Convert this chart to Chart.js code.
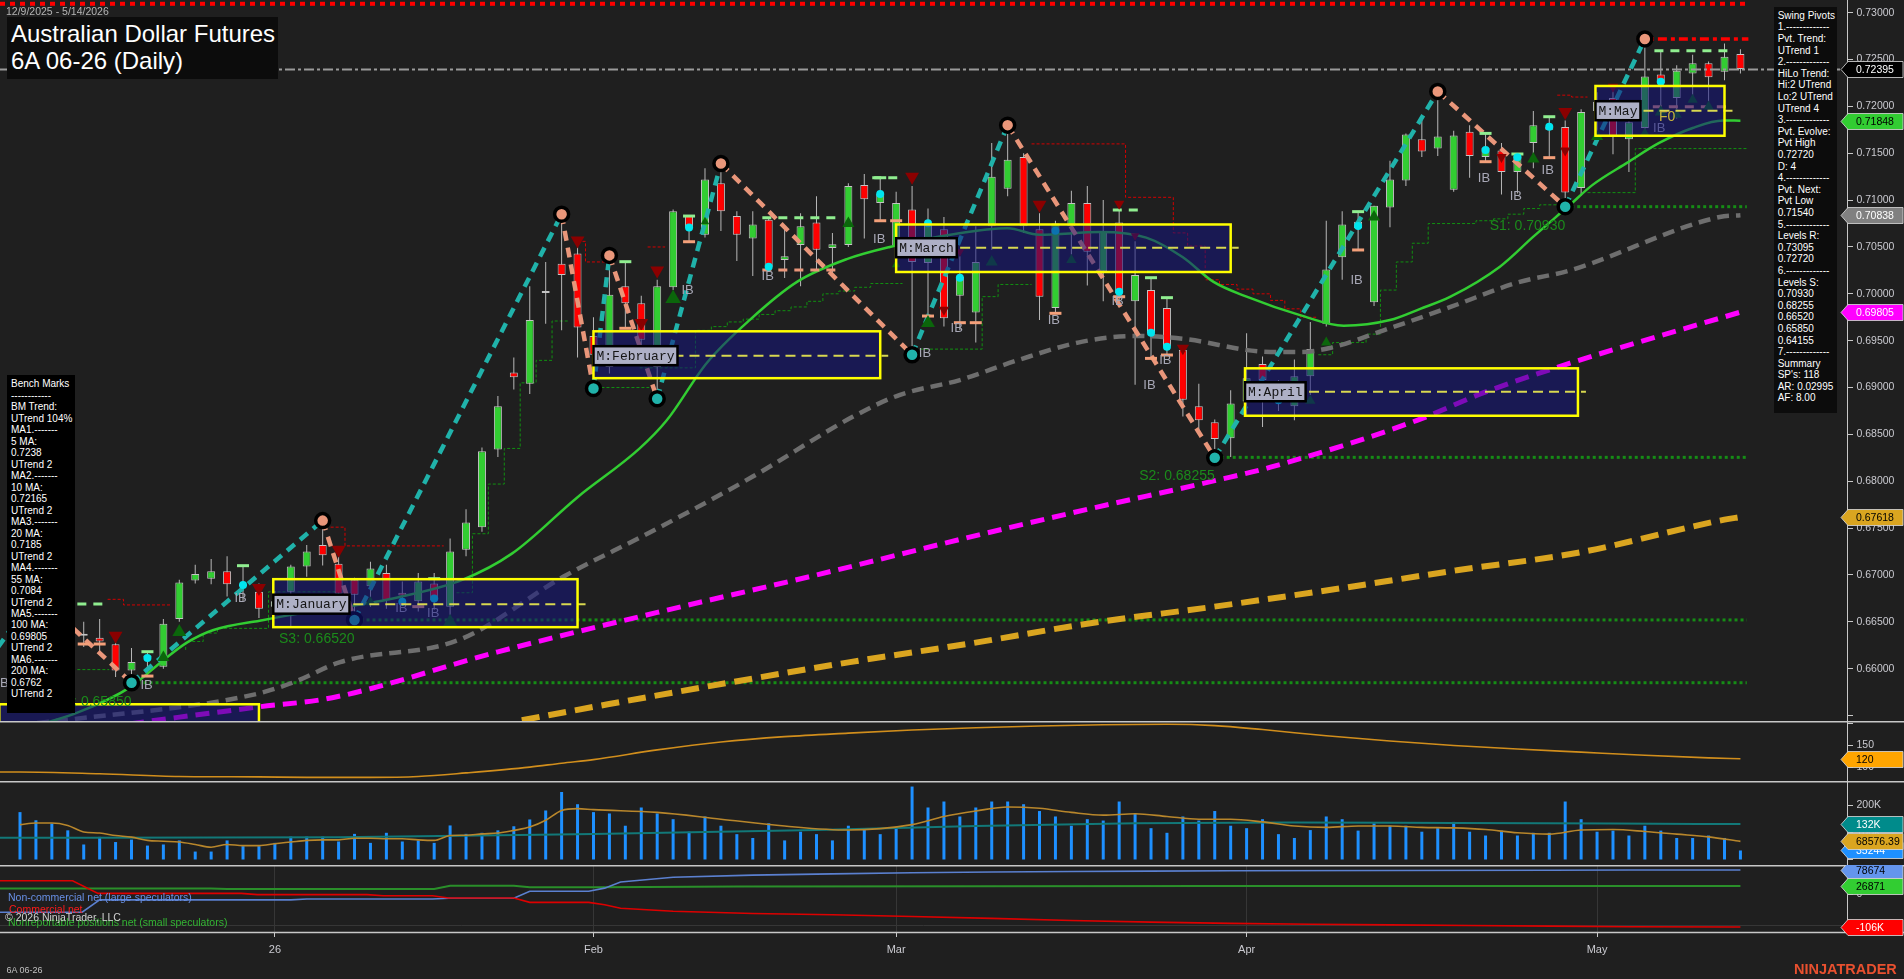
<!DOCTYPE html>
<html>
<head>
<meta charset="utf-8">
<title>Australian Dollar Futures 6A 06-26 (Daily)</title>
<script src="https://cdn.jsdelivr.net/npm/chart.js@4/dist/chart.umd.min.js"></script>
<style>
html,body{margin:0;padding:0;width:1904px;height:979px;background:#1f1f1f;overflow:hidden;font-family:"Liberation Sans",Arial,sans-serif;}
canvas{position:absolute;left:0;display:block;}
.t{position:absolute;white-space:pre;}
</style>
</head>
<body>
<canvas id="cMain" width="1904" height="721" style="top:0;width:1904px;height:721px"></canvas>
<canvas id="cOsc" width="1904" height="60" style="top:721px;width:1904px;height:60px"></canvas>
<canvas id="cVol" width="1904" height="84" style="top:781px;width:1904px;height:84px"></canvas>
<canvas id="cCot" width="1904" height="114" style="top:865px;width:1904px;height:114px"></canvas>

<div class="t" style="left:6px;top:5px;font-size:10.5px;line-height:13px;color:#b4b4b4">12/9/2025 - 5/14/2026</div>
<div class="t" style="left:7px;top:17px;width:271px;height:62px;box-sizing:border-box;padding:4.3px 0 0 4px;background:#0c0c0c;color:#ffffff;font-size:24px;line-height:26.7px">Australian Dollar Futures
6A 06-26 (Daily)</div>
<div class="t" style="left:7px;top:375px;width:68px;height:338px;box-sizing:border-box;padding:3.3px 0 0 4px;background:#000;color:#fff;font-size:10px;line-height:11.49px">Bench Marks
------------
BM Trend:
UTrend 104%
MA1.-------
5 MA:
0.7238
UTrend 2
MA2.-------
10 MA:
0.72165
UTrend 2
MA3.-------
20 MA:
0.7185
UTrend 2
MA4.-------
55 MA:
0.7084
UTrend 2
MA5.-------
100 MA:
0.69805
UTrend 2
MA6.-------
200 MA:
0.6762
UTrend 2</div>
<div class="t" style="left:1774px;top:7px;width:63px;height:406px;box-sizing:border-box;padding:2.9px 0 0 3.7px;background:#0c0c0c;color:#fff;font-size:10px;line-height:11.6px">Swing Pivots
1.-------------
Pvt. Trend:
UTrend 1
2.-------------
HiLo Trend:
Hi:2 UTrend
Lo:2 UTrend
UTrend 4
3.-------------
Pvt. Evolve:
Pvt High
0.72720
D: 4
4.-------------
Pvt. Next:
Pvt Low
0.71540
5.-------------
Levels R:
0.73095
0.72720
6.-------------
Levels S:
0.70930
0.68255
0.66520
0.65850
0.64155
7.-------------
Summary
SP's: 118
AR: 0.02995
AF: 8.00</div>
<div class="t" style="left:8px;top:890.7px;font-size:10.5px;line-height:12px;color:#6890e6">Non-commercial net (large speculators)</div>
<div class="t" style="left:9px;top:903.3px;font-size:10.5px;line-height:12px;color:#ff1a1a">Commercial net</div>
<div class="t" style="left:8px;top:916.3px;font-size:10.5px;line-height:12px;color:#33b533">Nonreportable positions net (small speculators)</div>
<div class="t" style="left:5px;top:911.3px;font-size:10.5px;line-height:12px;color:#d0d0d0">© 2026 NinjaTrader, LLC</div>
<div class="t" style="left:6.5px;top:964.5px;font-size:9px;line-height:11px;color:#c0c0c0">6A 06-26</div>
<div class="t" style="left:1794px;top:961px;font-size:14.5px;line-height:16px;font-weight:bold;color:#e8502f">NINJATRADER</div>

<script>
// ---------------- DATA ----------------
const X_MIN = -1.2555, X_MAX = 114.69;
const opens  = [.6635,.6655,.6660,.6638,.6637,.6633,.6626,.6598,.6612,.6602,.6653,.6694,.6696,.6704,.6688,.6682,.6666,.6682,.6709,.6732,.6712,.6695,.6688,.6702,.6681,.6672,.6691,.6666,.6727,.6751,.6834,.6916,.6904,.7001,.7032,.7043,.6955,.6922,.7008,.6990,.6922,.7007,.7083,.7063,.7118,.7083,.7059,.7079,.7036,.7052,.7076,.7049,.7052,.7116,.7097,.7050,.7090,.7033,.7069,.6998,.6980,.7072,.7112,.7146,.7069,.6985,.7072,.7097,.7024,.7076,.6992,.7004,.6985,.6940,.6880,.6863,.6846,.6885,.6925,.6896,.6880,.6912,.6968,.7039,.7077,.6991,.7092,.7121,.7165,.7155,.7111,.7173,.7146,.7153,.7130,.7161,.7175,.7178,.7113,.7195,.7209,.7165,.7177,.7234,.7209,.7235,.7246,.7237,.7256];
const highs  = [.6662,.6680,.6668,.6650,.6650,.6653,.6628,.6622,.6618,.6653,.6695,.6711,.6717,.6720,.6710,.6691,.6683,.6711,.6732,.6758,.6722,.6697,.6714,.6711,.6693,.6702,.6702,.6739,.6770,.6836,.6891,.6932,.7008,.7034,.7085,.7050,.6975,.7041,.7034,.6998,.7015,.7090,.7083,.7134,.7139,.7088,.7088,.7081,.7072,.7086,.7104,.7065,.7118,.7128,.7124,.7109,.7115,.7091,.7082,.7040,.7072,.7161,.7180,.7150,.7086,.7078,.7110,.7115,.7100,.7089,.7056,.7017,.6996,.6944,.6904,.6866,.6897,.6958,.6933,.6908,.6930,.6970,.7078,.7088,.7088,.7094,.7142,.7171,.7186,.7216,.7174,.7180,.7171,.7161,.7149,.7195,.7189,.7185,.7197,.7215,.7216,.7191,.7272,.7258,.7244,.7255,.7248,.7267,.7261];
const lows   = [.6625,.6640,.6630,.6625,.6623,.6616,.6591,.6586,.6593,.6600,.6650,.6691,.6690,.6677,.6672,.6654,.6660,.6645,.6698,.6710,.6672,.6652,.6666,.6664,.6667,.6661,.6663,.6657,.6720,.6746,.6826,.6898,.6893,.6968,.6961,.6932,.6899,.6915,.6963,.6935,.6888,.7004,.7056,.7060,.7067,.7035,.7019,.7026,.7017,.7008,.7025,.7020,.7050,.7059,.7078,.7044,.6935,.6977,.6965,.6961,.6948,.7047,.7104,.7065,.6972,.6979,.7042,.7009,.6992,.6992,.6903,.6931,.6935,.6869,.6855,.6825,.6826,.6870,.6858,.6875,.6865,.6892,.6965,.7015,.7047,.6987,.7071,.7115,.7146,.7147,.7109,.7124,.7141,.7106,.7107,.7134,.7145,.7093,.7105,.7170,.7149,.7130,.7170,.7200,.7187,.7210,.7205,.7228,.7235];
const closes = [.6655,.6660,.6638,.6632,.6635,.6629,.6598,.6607,.6614,.6648,.6692,.6701,.6704,.6690,.6689,.6664,.6672,.6709,.6725,.6721,.6680,.6679,.6707,.6673,.6678,.6693,.6673,.6725,.6756,.6832,.6880,.6911,.6972,.7001,.7020,.6964,.6935,.6999,.6990,.6951,.7008,.7088,.7070,.7122,.7088,.7063,.7074,.7029,.7040,.7072,.7047,.7053,.7115,.7101,.7107,.7097,.7034,.7075,.6974,.7018,.7034,.7125,.7143,.7072,.6997,.7075,.7097,.7045,.7067,.7001,.7020,.6958,.6944,.6887,.6865,.6845,.6883,.6910,.6908,.6890,.6912,.6941,.7026,.7074,.7070,.7094,.7122,.7170,.7152,.7168,.7169,.7147,.7156,.7130,.7147,.7180,.7178,.7108,.7194,.7205,.7168,.7183,.7232,.7225,.7238,.7246,.7231,.7253,.7240];
const volumeK = [176,146,134,109,57,85,66,75,53,57,72,31,31,72,51,51,63,86,86,86,68,96,63,100,68,72,63,127,96,100,109,124,149,182,250,205,176,171,126,193,171,150,104,160,126,95,81,135,72,104,95,72,126,117,95,117,270,193,215,160,193,215,215,205,180,160,126,150,145,215,171,117,100,160,145,180,126,117,150,95,81,110,160,150,108,135,126,126,104,117,140,104,90,108,90,100,100,215,150,104,108,90,126,108,81,81,90,81,35];

const monthTickIdx = [16,36,55,77,99];
const monthTickLabel = ['26','Feb','Mar','Apr','May'];
const mainTicks = [0.655,0.66,0.665,0.67,0.675,0.68,0.685,0.69,0.695,0.70,0.705,0.71,0.715,0.72,0.725,0.73];
const oscTicks = [100,150,200];
const volTicks = [0,100,200];
const cotTicks = [-100,0];

// moving averages [bar, price]
const ma20 = [[-1.3,.6530],[0,.6535],[3.6,.6553],[6.9,.6580],[9,.6609],[10.5,.6628],[12.1,.6641],[15.3,.6652],[17.6,.6659],[20.1,.6665],[23.7,.6676],[27.8,.6695],[30.9,.6723],[35,.6783],[38.9,.6835],[40.6,.6865],[43.1,.6926],[45.8,.6972],[48.8,.7013],[51.9,.7037],[54.6,.7050],[58.4,.7063],[62,.7070],[64,.7063],[67.8,.7066],[70.7,.7060],[73,.7039],[74.9,.7013],[77,.6997],[80.4,.6977],[83.1,.6966],[86,.6972],[87.9,.6984],[89.8,.6997],[92.9,.7029],[95,.7061],[97.3,.7095],[98.7,.7116],[100.9,.7140],[102.9,.7161],[105,.7177],[106.9,.7185],[108,.71848]];
const ma55 = [[-1.3,.6538],[3.8,.6547],[14.6,.6572],[17.1,.6585],[20.1,.6607],[27.6,.6631],[34.1,.6698],[39.5,.6745],[46,.6805],[52.3,.6869],[55.2,.6892],[59,.6908],[62.6,.6929],[66.7,.6949],[70.1,.6955],[73,.6952],[78.5,.6938],[80.4,.6938],[82.4,.6943],[85.6,.6961],[89.8,.6986],[94,.7012],[97.3,.7025],[106.7,.7082],[108,.70838]];
const ma100 = [[-1.3,.6522],[9.9,.6548],[14.9,.6559],[19.6,.6569],[30,.6618],[40,.6660],[50,.6700],[60,.6742],[67,.6770],[75.1,.6801],[78.5,.6815],[87.7,.6865],[91.8,.6894],[97.3,.6926],[108,.69805]];
const ma200 = [[31.5,.6545],[36.9,.6562],[44.5,.6585],[52.1,.6607],[59.7,.6627],[67.4,.6649],[74.9,.6666],[82.6,.6685],[90.2,.6705],[97.9,.6724],[107,.6759],[108,.67618]];

// swing pivots
const pivotIdx   = [-2,1,7,19,21,34,36,37,40,44,56,62,75,89,97,102];
const pivotPrice = [.6608,.6680,.6585,.6758,.6652,.7085,.6899,.7041,.6888,.7139,.6935,.7180,.6825,.7216,.7093,.7272];

// support levels
const supportLevel = [.6585,.6652,.68255,.7093];
const supportFrom  = [7,21,75,97];
const supportTo    = 108.4;
const supportText  = ['S4: 0.65850','S3: 0.66520','S2: 0.68255','S1: 0.70930'];

// monthly boxes
const boxStart = [-1.3,15.9,36.0,55.0,76.9,98.9];
const boxEnd   = [15.0,35.0,54.0,76.0,97.8,107.0];
const boxHigh  = [.6562,.66955,.6960,.70740,.69205,.72218];
const boxLow   = [.6490,.66443,.6910,.70233,.68699,.71687];
const boxMid   = [.6526,.66688,.6934,.70492,.68955,.71954];
const boxText  = ['','M:January','M:February','M:March','M:April','M:May'];

// stepped stop lines
const redSteps = [
 [[5.5,.6674],[6.5,.6674],[6.5,.6668],[9.5,.6668]],
 [[19.5,.6751],[20.4,.6751],[20.4,.6731],[26.6,.6731]],
 [[35,.7056],[35.5,.7056],[35.5,.7034],[36.8,.7034]],
 [[39.4,.7050],[40.5,.7050]],
 [[63.5,.7160],[69.4,.7160],[69.4,.7103],[72.4,.7103],[72.4,.7065],[73.3,.7065],[73.3,.7051],[74.4,.7051],[74.4,.7015],[75.3,.7015],[75.3,.7010],[76.4,.7010],[76.4,.7005],[77.4,.7005],[77.4,.7000],[78.5,.7000],[78.5,.6993],[79.4,.6993],[79.4,.6984],[80.4,.6984],[80.4,.6975],[81.4,.6975]],
 [[96.5,.7212],[97.4,.7212],[97.4,.7210],[98.4,.7210]]
];
const greenSteps = [
 [[3.6,.6599],[5.6,.6599]],
 [[10.4,.6620],[10.4,.6629],[11.5,.6629],[11.5,.6638],[12.4,.6638],[12.4,.6643],[15.6,.6643],[15.6,.6682],[20.1,.6682]],
 [[27.4,.6681],[28.4,.6681],[28.4,.6744],[29.4,.6744],[29.4,.6797],[30.4,.6797],[30.4,.6835],[31.4,.6835],[31.4,.6905],[32.4,.6905],[32.4,.6929],[33.4,.6929],[33.4,.6971],[34.5,.6971]],
 [[36.5,.6900],[39.5,.6900]],
 [[38.9,.6921],[42.4,.6921],[42.4,.6961],[43.4,.6961],[43.4,.6965],[44.4,.6965],[44.4,.6970],[45.4,.6970],[45.4,.6973],[46.4,.6973],[46.4,.6978],[47.4,.6978],[47.4,.6982],[48.4,.6982],[48.4,.6986],[49.4,.6986],[49.4,.6992],[50.4,.6992],[50.4,.7000],[51.4,.7000],[51.4,.7003],[52.4,.7003],[52.4,.7007],[53.4,.7007],[53.4,.7011],[55.4,.7011]],
 [[56.5,.6941],[60.4,.6941],[60.4,.6997],[61.4,.6997],[61.4,.7010],[63.5,.7010]],
 [[81.5,.6935],[82.4,.6935],[82.4,.6948],[84.5,.6948],[84.5,.6957],[85.4,.6957],[85.4,.7004],[86.4,.7004],[86.4,.7034],[87.4,.7034],[87.4,.7054],[88.4,.7054],[88.4,.7075],[91.4,.7075],[91.4,.7078],[92.5,.7078],[92.5,.7080],[93.4,.7080],[93.4,.7085],[94.4,.7085],[94.4,.7091],[95.4,.7091],[95.4,.7095],[96.5,.7095]],
 [[98.4,.7108],[101.4,.7108],[101.4,.7155],[108.5,.7155]]
];

// markers
const triDown = [[6,.6635],[15,.6686],[20,.6727],[35,.7057],[39,.6969],[40,.7025],[56,.7125],[58,.6983],[59,.7045],[64,.7095],[69,.7096],[70,.7062],[73,.6942],[93,.7146],[97,.7194],[97,.7153],[100,.7221]];
const triDownSize = [8,8,8,8,8,8,8,6,5,8,6,5,7,6,8,6,6];
const triUp = [[9,.6612],[10,.6639],[22,.6671],[27,.6650],[41,.6995],[43,.7077],[52,.7075],[55,.7031],[57,.6969],[61,.7034],[66,.7036],[81,.6886],[82,.6948],[85,.7082],[95,.7144],[99,.7168],[102,.7171],[103,.7194],[104,.7191],[105,.7207],[106,.7200]];
const triUpSize = [7,8,6,8,9,5,7,5,8,7,6,6,6,7,7,7,6,7,6,6,6];
const cyanDots = [[8,.66115],[14,.66893],[24,.66714],[26,.6675],[42,.70707],[47,.70289],[54,.71066],[57,.70753],[59,.70172],[65,.70673],[69,.70022],[71,.69585],[72,.69436],[79,.68865],[84,.70723],[92,.71535],[94,.71457],[96,.71783],[103,.72264]];
const hiTicks = [[8,.66181],[14,.67099],[26,.6696],[38,.70343],[42,.7083],[54,.71239],[71,.70172],[72,.69959],[84,.70877],[92,.71712],[94,.71492],[96,.7189]];
const loTicks = [[4,.66263],[5,.66263],[8,.65921],[25,.66662],[38,.69632],[42,.70556],[54,.7078],[55,.7078],[57,.69763],[59,.69692],[60,.69692],[65,.69792],[69,.69969],[71,.69311],[72,.69347],[84,.70468],[92,.7141],[96,.71453]];
const projHi = [[3.6,5.2,.6669],[46.6,51.3,.70812],[53.5,55.2,.71239],[68.6,70.2,.70894],[102.6,107.2,.72594]];
const projLo = [[46.6,51.3,.70254],[102.5,107.2,.71997]];
const ibIdx   = [-1.1,7.95,13.85,23.94,25.94,41.91,46.94,53.94,56.81,58.8,64.9,68.9,70.9,71.9,83.9,91.9,93.9,95.9,102.9];
const ibPrice = [.65845,.65824,.6675,.66644,.6659,.70041,.70182,.70582,.69365,.69632,.6972,.69916,.69027,.69293,.70147,.71233,.71036,.71321,.71766];
const resistTop = 0.73095, pivotHighLvl = 0.72720, lastPrice = 0.72395;

// lower panels
const osc = [[-1.3,90],[0,90],[5,86],[10,80],[15,79],[18,78],[22,78],[25,80],[28,88],[32,101],[34,110],[36,118],[40,140],[44,158],[48,170],[52,178],[56,185],[60,190],[64,194],[68,197],[72,198],[75,195],[78,186],[82,172],[86,160],[90,150],[94,142],[98,135],[102,128],[106,122],[108,120]];
const volAvg = [[0,130],[1,136],[2,136],[3,127],[4,103],[5,99],[6,90],[7,84],[8,72],[9,69],[10,66],[11,57],[12,47],[13,57],[14,53],[15,53],[16,60],[17,66],[18,72],[19,74],[20,74],[21,80],[22,80],[23,78],[24,78],[25,74],[26,72],[27,90],[28,91],[29,96],[30,99],[31,109],[32,121],[33,146],[34,182],[35,189],[36,185],[40,175],[44,150],[48,125],[52,110],[56,130],[58,160],[60,180],[62,195],[64,190],[66,175],[68,165],[70,170],[72,160],[74,150],[76,150],[78,140],[80,125],[82,120],[84,125],[86,125],[88,120],[90,118],[92,112],[94,100],[96,95],[98,110],[100,112],[102,105],[104,95],[106,85],[108,68.58]];
const volLong = [[-1.3,82],[20,84],[36,96],[50,110],[60,125],[70,135],[80,138],[90,136],[100,134],[108,132]];
const cotCommercial = [[-1.3,44],[3.3,44],[4.9,3],[13.9,3],[14.9,-1],[21.8,-1],[22.8,-4.5],[25.9,-4.5],[26.9,-12],[31,-12],[32,-26],[35.7,-26],[36.7,-34],[37.7,-45],[41,-55],[46,-62],[51,-66],[56,-72],[61,-78],[66,-85],[71,-90],[76,-94],[81,-97],[86,-99],[91,-101],[96,-103],[101,-105],[108,-106]];
const cotLarge = [[-1.3,-58],[3.9,-58],[5,-18],[17,-18],[18,-15],[25.9,-15],[26.9,-13],[31,-13],[32,10],[35.7,10],[36.7,20],[37.7,40],[41,55],[46,62],[51,66],[56,70],[61,72],[66,74],[71,75],[76,76],[86,77],[96,78],[101,78.5],[108,78.674]];
const cotSmall = [[-1.3,19],[12,19],[13,17],[26,17],[27,28],[31,28],[32,23],[36.4,23],[45,25],[60,26],[75,27],[90,27],[108,26.871]];

// right-axis flags
const mainFlagVal = [0.72395,0.71848,0.70838,0.69805,0.67618];
const mainFlagText = ['0.72395','0.71848','0.70838','0.69805','0.67618'];
const mainFlagBg = ['#000000','#32cd32','#808080','#ff00ff','#daa520'];
const mainFlagFg = ['#ffffff','#000000','#ffffff','#ffffff','#000000'];
const oscFlagVal = [120], oscFlagText = ['120'], oscFlagBg = ['#ffa500'], oscFlagFg = ['#000000'];
const volFlagVal = [35.244,132,68.57639], volFlagText = ['35244','132K','68576.39'], volFlagBg = ['#1e90ff','#008b8b','#daa520'], volFlagFg = ['#ffffff','#ffffff','#000000'];
const cotFlagVal = [78.674,26.871,-106], cotFlagText = ['78674','26871','-106K'], cotFlagBg = ['#6495ed','#32cd32','#ff0000'], cotFlagFg = ['#000000','#000000','#ffffff'];

// ---------------- HELPERS ----------------
const FONT = '"Liberation Sans", Arial, sans-serif';
Chart.defaults.font.family = FONT;
const pts = arr => arr.map(p => ({x: p[0], y: p[1]}));
const bars = opens.map((o, i) => i);
const CLIP = {left:false, top:false, right:0, bottom:false};

function xHidden() { return {type:'linear', min:X_MIN, max:X_MAX, offset:false, bounds:'data', display:false}; }
function yAxis(min, max, ticks, fmt, gridColorFn) {
  return {
    type:'linear', position:'right', min:min, max:max, bounds:'data',
    afterBuildTicks: s => { s.ticks = ticks.map(v => ({value:v})); },
    afterFit: s => { s.width = 57; s.paddingTop = 0; s.paddingBottom = 0; },
    ticks: { color:'#cacad0', font:{size:10.5, family:FONT}, padding:3.5, callback: v => fmt(v) },
    grid: { drawOnChartArea: !!gridColorFn, drawTicks:true, tickLength:6, color: gridColorFn || '#c8c8c8', tickColor:'#c8c8c8' },
    border: { display:true, color:'#c8c8c8', width:1 }
  };
}
function baseOpts(scales) {
  return { responsive:false, animation:false, devicePixelRatio:1, events:[], layout:{padding:0, autoPadding:false},
    plugins:{legend:{display:false}, tooltip:{enabled:false}}, scales:scales };
}
// keep value->pixel mapping exact even if the library reserves space around the plot
function calibrate(chart, pxTop, pxBottom, vMin, vMax) {
  const a = chart.chartArea, pp = (vMax - vMin) / (pxBottom - pxTop);
  const nMax = vMax - (a.top - pxTop) * pp, nMin = vMin + (pxBottom - a.bottom) * pp;
  if (Math.abs(nMax - vMax) > 1e-12 || Math.abs(nMin - vMin) > 1e-12) {
    chart.options.scales.y.min = nMin; chart.options.scales.y.max = nMax; chart.update('none');
  }
}
function drawFlags(ctx, yScale, vals, texts, bgs, fgs) {
  vals.forEach((v, k) => {
    const y = Math.round(yScale.getPixelForValue(v)) + 0.5;
    ctx.beginPath();
    ctx.moveTo(1841, y); ctx.lineTo(1848, y - 8); ctx.lineTo(1903, y - 8); ctx.lineTo(1903, y + 8); ctx.lineTo(1848, y + 8); ctx.closePath();
    ctx.fillStyle = bgs[k]; ctx.fill();
    ctx.strokeStyle = 'rgba(210,210,210,0.85)'; ctx.lineWidth = 1; ctx.stroke();
    ctx.fillStyle = fgs[k]; ctx.font = '10.5px ' + FONT; ctx.textAlign = 'left'; ctx.textBaseline = 'middle';
    ctx.fillText(texts[k], 1856, y + 0.5);
  });
}
function frame(chart, top, bottomY) {
  const ctx = chart.ctx, xr = Math.round(chart.chartArea.right) + 0.5;
  ctx.save(); ctx.strokeStyle = '#c8c8c8'; ctx.lineWidth = 1;
  ctx.beginPath(); ctx.moveTo(xr, 0); ctx.lineTo(xr, bottomY); ctx.stroke();
  if (top) { ctx.lineWidth = 1.5; ctx.beginPath(); ctx.moveTo(0, 0.75); ctx.lineTo(1904, 0.75); ctx.stroke(); }
  ctx.restore();
}
function lineDs(data, color, width, dash, order, extra) {
  return Object.assign({type:'line', data:pts(data), borderColor:color, borderWidth:width, borderDash:dash || [], pointRadius:0, fill:false, order:order, clip:CLIP}, extra || {});
}

// ---------------- MAIN CHART ----------------
const mainDs = [];
redSteps.forEach(s => mainDs.push(lineDs(s, '#d40000', 1, [3,2], 100)));
greenSteps.forEach(s => mainDs.push(lineDs(s, '#119011', 1, [3,2], 100)));
supportLevel.forEach((v, k) => mainDs.push(lineDs([[supportFrom[k], v], [supportTo, v]], '#168c16', 3, [3,3], 98)));
mainDs.push({type:'bar', data: bars.map(i => ({x:i, y:[lows[i], highs[i]]})), backgroundColor:'#b8b8b8', barThickness:1, grouped:false, inflateAmount:0, order:96, clip:CLIP});
mainDs.push({type:'bar', data: bars.map(i => ({x:i, y:[opens[i], closes[i]]})),
  backgroundColor: bars.map(i => closes[i] >= opens[i] ? '#32cd32' : '#ff0000'),
  borderColor:'#c4c4c4', borderWidth:1, borderSkipped:false, barThickness:8, minBarLength:2, grouped:false, inflateAmount:0, order:95, clip:CLIP});
mainDs.push(lineDs(ma200, '#daa520', 6, [18,9], 90, {cubicInterpolationMode:'monotone'}));
mainDs.push(lineDs(ma100, '#ff00ff', 5, [14,8], 89, {cubicInterpolationMode:'monotone'}));
mainDs.push(lineDs(ma55, '#6e6e6e', 4.5, [12,7], 88, {cubicInterpolationMode:'monotone'}));
mainDs.push(lineDs(ma20, '#32cd32', 2.5, [], 87, {cubicInterpolationMode:'monotone'}));
projHi.forEach(p => mainDs.push(lineDs([[p[0], p[2]], [p[1], p[2]]], '#90ee90', 3, [9,7], 60)));
projLo.forEach(p => mainDs.push(lineDs([[p[0], p[2]], [p[1], p[2]]], '#e9967a', 3, [9,7], 60)));
mainDs.push(lineDs([[X_MIN, resistTop], [108.3, resistTop]], '#ff0000', 4, [5,5], 58));
mainDs.push(lineDs([[101.5, pivotHighLvl], [108.5, pivotHighLvl]], '#ff0000', 3.5, [9,4,4,4], 58));
mainDs.push(lineDs([[X_MIN, lastPrice], [X_MAX, lastPrice]], '#9a9a9a', 2, [10,3,3,3], 58));
mainDs.push({type:'line', data: pivotIdx.map((v, k) => ({x:v, y:pivotPrice[k]})), borderWidth:4.5, borderDash:[10,7],
  segment:{ borderColor: c => c.p1.parsed.y > c.p0.parsed.y ? '#20b2aa' : '#e9967a' },
  borderColor:'#20b2aa', fill:false, clip:CLIP,
  pointRadius: pivotIdx.map(v => v < X_MIN ? 0 : 7),
  pointBackgroundColor: pivotIdx.map((v, k) => k % 2 === 1 ? '#e9967a' : '#20b2aa'),
  pointBorderColor:'#000000', pointBorderWidth:3.5, order:50});
mainDs.push({type:'line', data:pts(triDown), showLine:false, pointStyle:'triangle', pointRotation:180, pointRadius:triDownSize, pointBackgroundColor:'#8b0000', pointBorderWidth:0, order:40, clip:CLIP});
mainDs.push({type:'line', data:pts(triUp), showLine:false, pointStyle:'triangle', pointRadius:triUpSize, pointBackgroundColor:'#0b660b', pointBorderWidth:0, order:40, clip:CLIP});
mainDs.push({type:'line', data:pts(hiTicks), showLine:false, pointStyle:'line', pointRadius:6, pointBorderColor:'#90ee90', pointBorderWidth:3, order:41, clip:CLIP});
mainDs.push({type:'line', data:pts(loTicks), showLine:false, pointStyle:'line', pointRadius:6, pointBorderColor:'#f4a07a', pointBorderWidth:3, order:41, clip:CLIP});
mainDs.push({type:'line', data:pts(cyanDots), showLine:false, pointStyle:'circle', pointRadius:4, pointBackgroundColor:'#00e5ee', pointBorderWidth:0, order:39, clip:CLIP});

const mainPlugin = {
  id:'mainDeco',
  afterDatasetsDraw(chart) {
    const ctx = chart.ctx, a = chart.chartArea, x = chart.scales.x, y = chart.scales.y;
    ctx.save();
    ctx.beginPath(); ctx.rect(0, 0, a.right, chart.height); ctx.clip();
    // IB labels
    ctx.font = '13px ' + FONT; ctx.fillStyle = '#a8a8b6'; ctx.textAlign = 'center'; ctx.textBaseline = 'middle';
    ibIdx.forEach((v, k) => ctx.fillText('IB', x.getPixelForValue(v), y.getPixelForValue(ibPrice[k])));
    // boxes
    boxStart.forEach((s, k) => {
      const x0 = x.getPixelForValue(s), x1 = x.getPixelForValue(boxEnd[k]);
      const yT = y.getPixelForValue(boxHigh[k]), yB = y.getPixelForValue(boxLow[k]), yM = y.getPixelForValue(boxMid[k]);
      ctx.fillStyle = 'rgba(20,20,125,0.55)'; ctx.fillRect(x0, yT, x1 - x0, yB - yT);
      ctx.setLineDash([10,6]); ctx.strokeStyle = '#d8d850'; ctx.lineWidth = 2;
      ctx.beginPath(); ctx.moveTo(x0, yM); ctx.lineTo(x1 + 8, yM); ctx.stroke();
      ctx.setLineDash([]); ctx.strokeStyle = '#ffff00'; ctx.lineWidth = 2.5;
      ctx.strokeRect(x0, yT, x1 - x0, yB - yT);
    });
    // box labels
    ctx.font = '13px "Liberation Mono", monospace'; ctx.textAlign = 'left'; ctx.textBaseline = 'middle';
    boxStart.forEach((s, k) => {
      if (!boxText[k]) return;
      const x0 = x.getPixelForValue(s), yM = y.getPixelForValue(boxMid[k]);
      const w = ctx.measureText(boxText[k]).width + 6;
      ctx.fillStyle = '#aeb0c6'; ctx.fillRect(x0, yM - 9.5, w, 19);
      ctx.strokeStyle = '#000000'; ctx.lineWidth = 2.5; ctx.strokeRect(x0, yM - 9.5, w, 19);
      ctx.fillStyle = '#151515'; ctx.fillText(boxText[k], x0 + 3, yM + 0.5);
    });
    // support labels
    ctx.font = '14px ' + FONT; ctx.fillStyle = '#1b8b1b'; ctx.textAlign = 'right';
    supportLevel.forEach((v, k) => ctx.fillText(supportText[k], x.getPixelForValue(supportFrom[k]), y.getPixelForValue(v) + 19));
    ctx.font = '14px ' + FONT; ctx.fillStyle = '#c8b43c'; ctx.textAlign = 'center';
    ctx.fillText('F0', x.getPixelForValue(103.4), y.getPixelForValue(0.71884));
    ctx.restore();
  },
  afterDraw(chart) {
    frame(chart, false, chart.height);
    drawFlags(chart.ctx, chart.scales.y, mainFlagVal, mainFlagText, mainFlagBg, mainFlagFg);
  }
};

const MAIN_MIN = 0.654415, MAIN_MAX = 0.731355;
const chartMain = new Chart(document.getElementById('cMain'), {
  type:'bar',
  data:{datasets:mainDs},
  options: baseOpts({ x: xHidden(), y: yAxis(MAIN_MIN, MAIN_MAX, mainTicks, v => v < 0.6575 ? '' : v.toFixed(5)) }),
  plugins:[mainPlugin]
});
calibrate(chartMain, 0, 721, MAIN_MIN, MAIN_MAX);

// ---------------- OSCILLATOR PANEL ----------------
const chartOsc = new Chart(document.getElementById('cOsc'), {
  type:'line',
  data:{datasets:[lineDs(osc, '#d18e1c', 1.6, [], 1, {cubicInterpolationMode:'monotone'})]},
  options: baseOpts({ x: xHidden(), y: yAxis(69.7, 205.4, oscTicks, v => v === 200 ? '' : String(v)) }),
  plugins:[{ id:'oscDeco', afterDraw(chart) { frame(chart, true, chart.height); drawFlags(chart.ctx, chart.scales.y, oscFlagVal, oscFlagText, oscFlagBg, oscFlagFg); } }]
});
calibrate(chartOsc, 0, 60, 69.7, 205.4);

// ---------------- VOLUME PANEL ----------------
const chartVol = new Chart(document.getElementById('cVol'), {
  type:'bar',
  data:{datasets:[
    lineDs(volAvg, '#b8862b', 1.6, [], 1, {cubicInterpolationMode:'monotone'}),
    lineDs(volLong, '#127878', 2, [], 2, {cubicInterpolationMode:'monotone'}),
    {type:'bar', data: bars.map(i => ({x:i, y:volumeK[i]})), backgroundColor:'#1e90ff', barThickness:3, grouped:false, inflateAmount:0, order:5, clip:CLIP}
  ]},
  options: baseOpts({ x: xHidden(), y: yAxis(-18.4, 290.4, volTicks, v => v === 0 ? '' : v + 'K') }),
  plugins:[{ id:'volDeco', afterDraw(chart) { frame(chart, true, chart.height); drawFlags(chart.ctx, chart.scales.y, volFlagVal, volFlagText, volFlagBg, volFlagFg); } }]
});
calibrate(chartVol, 0, 84, -18.4, 290.4);

// ---------------- COT PANEL (with date axis) ----------------
const chartCot = new Chart(document.getElementById('cCot'), {
  type:'line',
  data:{datasets:[
    lineDs(cotSmall, '#2a8f2a', 2, [], 3),
    lineDs(cotLarge, '#5b80d0', 1.6, [], 2),
    lineDs(cotCommercial, '#dd0000', 1.6, [], 1)
  ]},
  options: baseOpts({
    x: { type:'linear', min:X_MIN, max:X_MAX, offset:false, bounds:'data', position:'bottom',
      afterBuildTicks: s => { s.ticks = monthTickIdx.map(v => ({value:v})); },
      afterFit: s => { s.height = 47; s.paddingLeft = 0; s.paddingRight = 0; },
      ticks: { autoSkip:false, maxRotation:0, color:'#cacad0', font:{size:11, family:FONT}, padding:6,
        callback: v => { const k = monthTickIdx.indexOf(v); return k >= 0 ? monthTickLabel[k] : ''; } },
      grid: { drawOnChartArea:true, drawTicks:true, tickLength:5, color:'#363636', tickColor:'#c8c8c8' },
      border: { display:false } },
    y: yAxis(-122, 94.85, cotTicks, v => v === 0 ? '0' : v + 'K', c => (c.tick && c.tick.value === -100) ? '#363636' : 'rgba(0,0,0,0)')
  }),
  plugins:[{ id:'cotDeco', afterDraw(chart) {
    const ctx = chart.ctx; const yb = chart.chartArea.bottom + 0.5;
    frame(chart, true, yb);
    ctx.save(); ctx.strokeStyle = '#c8c8c8'; ctx.lineWidth = 1.5;
    ctx.beginPath(); ctx.moveTo(0, yb); ctx.lineTo(1904, yb); ctx.stroke(); ctx.restore();
    drawFlags(ctx, chart.scales.y, cotFlagVal, cotFlagText, cotFlagBg, cotFlagFg);
  } }]
});
calibrate(chartCot, 0, 67, -122, 94.85);
</script>
</body>
</html>
